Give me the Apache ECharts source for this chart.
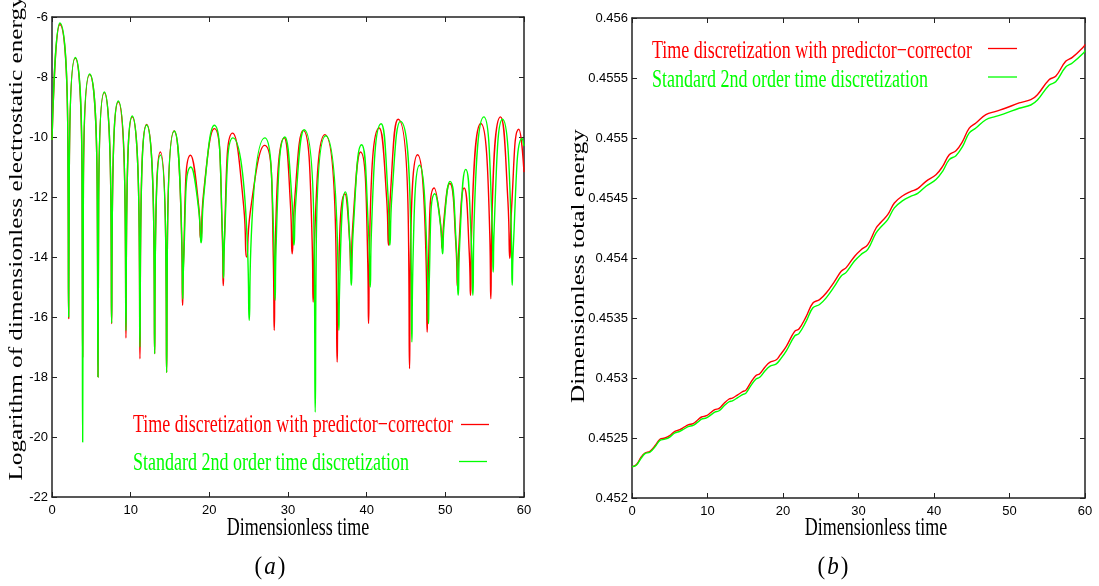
<!DOCTYPE html>
<html>
<head>
<meta charset="utf-8">
<script src="https://cdn.jsdelivr.net/npm/echarts@6/dist/echarts.min.js"></script>
<style>html,body{margin:0;padding:0;background:#fff}#c{width:1099px;height:586px}</style>
</head>
<body>
<div id="c"></div>
<script>
// ---------- data ----------
const seriesNames = ['Time discretization with predictor\u2212corrector', 'Standard 2nd order time discretization'];
const xTitle = 'Dimensionless time';
const yTitleA = 'Logarithm of dimensionless electrostatic energy';
const yTitleB = 'Dimensionless total energy';
const panelLabels = ['a', 'b'];

// (a) log of electrostatic energy, predictor-corrector [time, value]
const redLogEnergy = [
  [0,-10.1],
  [1.0,-6.25],[2.01,-9.95],[2.12,-16.05],
  [2.20,-11.07],[2.96,-7.37],[3.81,-11.07],[3.9,-17.33],
  [3.99,-11.62],[4.79,-7.92],[5.74,-11.62],[5.85,-18.0],
  [5.93,-12.22],[6.65,-8.52],[7.49,-12.22],[7.58,-16.22],
  [7.67,-12.53],[8.43,-8.83],[9.30,-12.53],[9.4,-16.7],
  [9.48,-13.03],[10.2,-9.33],[11.08,-13.03],[11.18,-17.39],
  [11.27,-13.28],[12.03,-9.58],[12.95,-13.28],[13.05,-17.22],
  [13.12,-14.2],[13.77,-10.5],[14.49,-14.2],[14.57,-17.85],
  [14.67,-13.5],[15.52,-9.8],[16.49,-13.5],[16.6,-15.61],
  [16.70,-14.31],[17.62,-10.61],[18.64,-12.28],[18.9,-13.39],
  [19.25,-11.92],[20.63,-9.72],[21.66,-13.42],[21.77,-14.95],
  [21.89,-13.57],[22.96,-9.87],[24.38,-12.35],[24.74,-14.0],
  [25.20,-12.51],[27.02,-10.28],[28.13,-13.98],[28.25,-16.44],
  [28.38,-13.73],[29.52,-10.03],[30.33,-12.35],[30.53,-13.89],
  [30.81,-12.25],[31.93,-9.78],[33.07,-13.48],[33.2,-15.5],
  [33.35,-13.62],[34.69,-9.92],[36.09,-13.62],[36.25,-17.5],
  [36.35,-15.59],[37.23,-11.89],[37.84,-13.49],[37.99,-14.55],
  [38.24,-12.93],[39.22,-10.5],[40.14,-14.2],[40.24,-16.22],
  [40.38,-13.4],[41.59,-9.7],[42.54,-12.05],[42.78,-13.61],
  [43.02,-11.93],[44.0,-9.41],[45.31,-13.11],[45.45,-17.72],
  [45.55,-14.29],[46.47,-10.59],[47.57,-14.29],[47.69,-16.5],
  [47.78,-15.2],[48.58,-11.7],[49.40,-12.91],[49.6,-13.72],
  [49.79,-12.85],[50.57,-11.55],[51.35,-13.62],[51.55,-15.0],
  [51.72,-13.68],[52.39,-11.7],[53.04,-13.85],[53.2,-15.28],
  [53.33,-13.25],[54.51,-9.55],[55.65,-13.25],[55.78,-15.39],
  [55.90,-13.03],[57.01,-9.33],[57.96,-12.16],[58.2,-14.05],
  [58.43,-12.33],[59.34,-9.74],[60,-11.17]
];

// (a) log of electrostatic energy, standard 2nd order [time, value]
const greenLogEnergy = [
  [0,-10.1],
  [1.0,-6.2],[2.01,-9.9],[2.12,-16.0],
  [2.20,-11.05],[2.96,-7.35],[3.81,-11.05],[3.9,-20.17],
  [3.99,-11.6],[4.79,-7.9],[5.74,-11.6],[5.85,-18.0],
  [5.93,-12.2],[6.65,-8.5],[7.49,-12.2],[7.58,-16.2],
  [7.67,-12.5],[8.43,-8.8],[9.30,-12.5],[9.4,-16.45],
  [9.48,-13.0],[10.2,-9.3],[11.08,-13.0],[11.18,-17.0],
  [11.27,-13.3],[12.03,-9.6],[12.95,-13.3],[13.05,-17.22],
  [13.12,-14.3],[13.77,-10.6],[14.49,-14.3],[14.57,-17.85],
  [14.67,-13.5],[15.55,-9.8],[16.51,-13.5],[16.62,-15.4],
  [16.72,-14.3],[17.65,-11.0],[18.69,-12.52],[18.95,-13.53],
  [19.29,-11.96],[20.63,-9.61],[21.68,-13.31],[21.8,-14.7],
  [21.92,-13.5],[23.0,-10.03],[24.86,-13.73],[25.07,-16.11],
  [25.27,-13.73],[27.05,-10.03],[28.23,-13.73],[28.36,-15.44],
  [28.48,-13.7],[29.6,-10.0],[30.52,-12.17],[30.75,-13.61],
  [31.01,-12.07],[32.05,-9.76],[33.32,-13.46],[33.46,-19.17],
  [33.59,-13.66],[34.8,-9.96],[36.30,-13.66],[36.47,-16.44],
  [36.55,-15.13],[37.3,-11.83],[37.89,-13.7],[38.04,-14.94],
  [38.30,-13.07],[39.35,-10.26],[40.23,-13.1],[40.45,-15.0],
  [40.59,-13.26],[41.84,-9.56],[42.72,-11.99],[42.94,-13.61],
  [43.21,-11.96],[44.3,-9.48],[45.61,-13.18],[45.75,-16.83],
  [45.85,-14.64],[46.72,-10.94],[47.75,-14.64],[47.86,-16.22],
  [47.94,-15.0],[48.66,-11.89],[49.45,-13.09],[49.65,-13.89],
  [49.84,-12.93],[50.6,-11.48],[51.42,-13.76],[51.63,-15.28],
  [51.82,-13.6],[52.6,-11.08],[53.32,-13.6],[53.5,-15.28],
  [53.64,-13.03],[54.89,-9.33],[55.96,-13.03],[56.08,-14.5],
  [56.20,-13.11],[57.27,-9.41],[58.38,-13.11],[58.5,-14.94],
  [58.63,-13.75],[59.77,-10.05],[60,-10.3]
];

// (b) total energy, predictor-corrector [time, value]
const redTotalEnergy = [
  [0,0.45226],[0.6,0.45228],[1.2,0.45234],[1.72,0.452375],[2.38,0.45239],
  [3.1,0.45244],[3.7,0.45249],[4.36,0.4525],[5.0,0.45252],[5.68,0.452555],
  [6.34,0.45257],[6.9,0.45259],[7.44,0.45261],[8.1,0.45262],[8.7,0.45265],
  [9.21,0.452675],[9.87,0.452686],[10.4,0.45271],[10.97,0.452736],[11.54,0.452747],
  [12.2,0.45279],[12.86,0.452825],[13.3,0.452833],[14.0,0.45286],[14.71,0.452888],
  [15.07,0.452897],[15.7,0.45296],[16.39,0.453019],[16.92,0.453036],[17.6,0.45309],
  [18.24,0.45313],[19.12,0.453152],[19.6,0.45319],[20.44,0.453264],[21.54,0.453389],
  [22.11,0.453408],[23.08,0.453514],[23.96,0.453625],[24.84,0.453653],[25.72,0.453708],
  [26.83,0.453805],[27.71,0.453889],[28.37,0.45392],[29.47,0.454013],[30.35,0.454069],
  [31.23,0.454111],[32.33,0.45425],[33.0,0.4543],[33.87,0.454361],[34.75,0.454458],
  [35.86,0.454519],[36.96,0.454555],[37.84,0.454578],[38.94,0.454639],[40.26,0.454694],
  [41.14,0.454763],[42.02,0.454861],[42.91,0.454894],[43.79,0.454972],[44.67,0.455083],
  [45.55,0.455125],[46.87,0.455194],[48.19,0.455222],[49.52,0.45525],[51.28,0.455292],
  [52.82,0.455319],[53.7,0.455361],[55.24,0.455486],[56.12,0.455514],[57.44,0.455639],
  [58.32,0.455672],[59.87,0.455764],[60,0.45578]
];

// (b) total energy, standard 2nd order [time, value]
const greenTotalEnergy = [
  [0,0.45226],[0.6,0.452275],[1.2,0.45233],[1.72,0.45237],[2.38,0.452382],
  [3.1,0.45243],[3.7,0.45248],[4.36,0.45249],[5.0,0.452508],[5.68,0.452542],
  [6.34,0.452556],[6.9,0.452575],[7.44,0.452595],[8.1,0.452605],[8.7,0.452632],
  [9.21,0.452657],[9.87,0.452668],[10.4,0.45269],[10.97,0.452716],[11.54,0.452727],
  [12.2,0.452768],[12.86,0.452802],[13.3,0.45281],[14.0,0.452836],[14.71,0.452864],
  [15.07,0.452872],[15.7,0.452932],[16.39,0.45299],[16.92,0.453006],[17.6,0.453058],
  [18.24,0.453097],[19.12,0.453118],[19.6,0.453152],[20.44,0.453226],[21.54,0.45335],
  [22.11,0.45337],[23.08,0.453474],[23.96,0.453585],[24.84,0.453613],[25.72,0.453668],
  [26.83,0.453765],[27.71,0.45385],[28.37,0.45388],[29.47,0.453975],[30.35,0.45403],
  [31.23,0.454072],[32.33,0.45421],[33.0,0.45426],[33.87,0.45432],[34.75,0.454418],
  [35.86,0.454478],[36.96,0.454515],[37.84,0.454538],[38.94,0.454598],[40.26,0.454654],
  [41.14,0.454722],[42.02,0.45482],[42.91,0.454853],[43.79,0.45493],[44.67,0.455042],
  [45.55,0.455083],[46.87,0.455152],[48.19,0.45518],[49.52,0.455207],[51.28,0.455248],
  [52.82,0.455275],[53.7,0.455316],[55.24,0.45544],[56.12,0.455468],[57.44,0.455592],
  [58.32,0.455625],[59.87,0.455712],[60,0.45573]
];

// ---------- styles ----------
const RED = '#ff0000', GREEN = '#00ff00', AX = '#222';
const SERIF = '"Liberation Serif","Times New Roman",serif';
const SANS = '"Liberation Sans",Arial,sans-serif';

function xAxisDef(grid, pos) {
  return {
    type: 'value', gridIndex: grid, position: pos, min: 0, max: 60, interval: 10,
    axisLine: { show: true, onZero: false, lineStyle: { color: AX, width: 1.5 } },
    axisTick: { show: true, inside: true, length: 5, lineStyle: { color: AX, width: 1 } },
    axisLabel: { show: pos === 'bottom', color: '#000', fontFamily: SANS, fontSize: 13, margin: 7 },
    splitLine: { show: false }
  };
}
function yAxisDef(grid, pos, min, max, interval, fmt) {
  return {
    type: 'value', gridIndex: grid, position: pos, min: min, max: max, interval: interval,
    axisLine: { show: true, onZero: false, lineStyle: { color: AX, width: 1.5 } },
    axisTick: { show: true, inside: true, length: 5, lineStyle: { color: AX, width: 1 } },
    axisLabel: { show: pos === 'left', color: '#000', fontFamily: SANS, fontSize: 13, margin: 4, formatter: fmt },
    splitLine: { show: false }
  };
}
const fmtB = v => String(+(+v).toFixed(4));

function lineSeries(name, data, color, xi, yi, smooth) {
  return {
    name: name, type: 'line', data: data, xAxisIndex: xi, yAxisIndex: yi,
    showSymbol: false, smooth: smooth, clip: true,
    lineStyle: { color: color, width: 1.4 }, itemStyle: { color: color }
  };
}

function txt(x, y, text, opts) {
  return Object.assign({
    type: 'text', x: x, y: y, silent: true,
    style: { text: text, font: '18px ' + SERIF, fill: '#000', align: 'center', verticalAlign: 'middle' }
  }, opts || {});
}

const chart = echarts.init(document.getElementById('c'), null, { renderer: 'canvas' });
chart.setOption({
  backgroundColor: '#fff',
  animation: false,
  grid: [
    { left: 52, top: 17, width: 472, height: 480 },
    { left: 632, top: 18, width: 453, height: 480 }
  ],
  xAxis: [xAxisDef(0, 'bottom'), xAxisDef(0, 'top'), xAxisDef(1, 'bottom'), xAxisDef(1, 'top')],
  yAxis: [
    yAxisDef(0, 'left', -22, -6, 2),
    yAxisDef(0, 'right', -22, -6, 2),
    yAxisDef(1, 'left', 0.452, 0.456, 0.0005, fmtB),
    yAxisDef(1, 'right', 0.452, 0.456, 0.0005, fmtB)
  ],
  series: [
    lineSeries(seriesNames[0], redLogEnergy, RED, 0, 0, 0.6),
    lineSeries(seriesNames[1], greenLogEnergy, GREEN, 0, 0, 0.6),
    lineSeries(seriesNames[0], redTotalEnergy, RED, 2, 2, 0.4),
    lineSeries(seriesNames[1], greenTotalEnergy, GREEN, 2, 2, 0.4)
  ],
  graphic: [
    // axis titles
    txt(298, 528, xTitle, { scaleY: 1.4 }),
    txt(876, 528, xTitle, { scaleY: 1.4 }),
    txt(17, 238, yTitleA, { rotation: Math.PI / 2, scaleX: 1.4 }),
    txt(579, 266, yTitleB, { rotation: Math.PI / 2, scaleX: 1.4 }),
    // panel labels
    {
      type: 'text', x: 270, y: 567, scaleY: 1.1, silent: true,
      style: { text: '{p|(}{i|' + panelLabels[0] + '}{p|)}', align: 'center', verticalAlign: 'middle',
        rich: { p: { font: '23px ' + SERIF, fill: '#000' }, i: { font: 'italic 23px ' + SERIF, fill: '#000', padding: [0, 2] } } }
    },
    {
      type: 'text', x: 833, y: 567, scaleY: 1.1, silent: true,
      style: { text: '{p|(}{i|' + panelLabels[1] + '}{p|)}', align: 'center', verticalAlign: 'middle',
        rich: { p: { font: '23px ' + SERIF, fill: '#000' }, i: { font: 'italic 23px ' + SERIF, fill: '#000', padding: [0, 2] } } }
    },
    // legend (a)
    txt(133, 425, seriesNames[0], { scaleY: 1.4, style: { text: seriesNames[0], font: '18px ' + SERIF, fill: RED, align: 'left', verticalAlign: 'middle' } }),
    txt(133, 463, seriesNames[1], { scaleY: 1.4, style: { text: seriesNames[1], font: '18px ' + SERIF, fill: GREEN, align: 'left', verticalAlign: 'middle' } }),
    { type: 'line', silent: true, shape: { x1: 461, y1: 424.5, x2: 489, y2: 424.5 }, style: { stroke: RED, lineWidth: 1.3 } },
    { type: 'line', silent: true, shape: { x1: 459, y1: 461.5, x2: 487, y2: 461.5 }, style: { stroke: GREEN, lineWidth: 1.3 } },
    // legend (b)
    txt(652, 51, seriesNames[0], { scaleY: 1.4, style: { text: seriesNames[0], font: '18px ' + SERIF, fill: RED, align: 'left', verticalAlign: 'middle' } }),
    txt(652, 80, seriesNames[1], { scaleY: 1.4, style: { text: seriesNames[1], font: '18px ' + SERIF, fill: GREEN, align: 'left', verticalAlign: 'middle' } }),
    { type: 'line', silent: true, shape: { x1: 988, y1: 48.5, x2: 1017, y2: 48.5 }, style: { stroke: RED, lineWidth: 1.3 } },
    { type: 'line', silent: true, shape: { x1: 988, y1: 77, x2: 1017, y2: 77 }, style: { stroke: GREEN, lineWidth: 1.3 } }
  ]
});
</script>
</body>
</html>
